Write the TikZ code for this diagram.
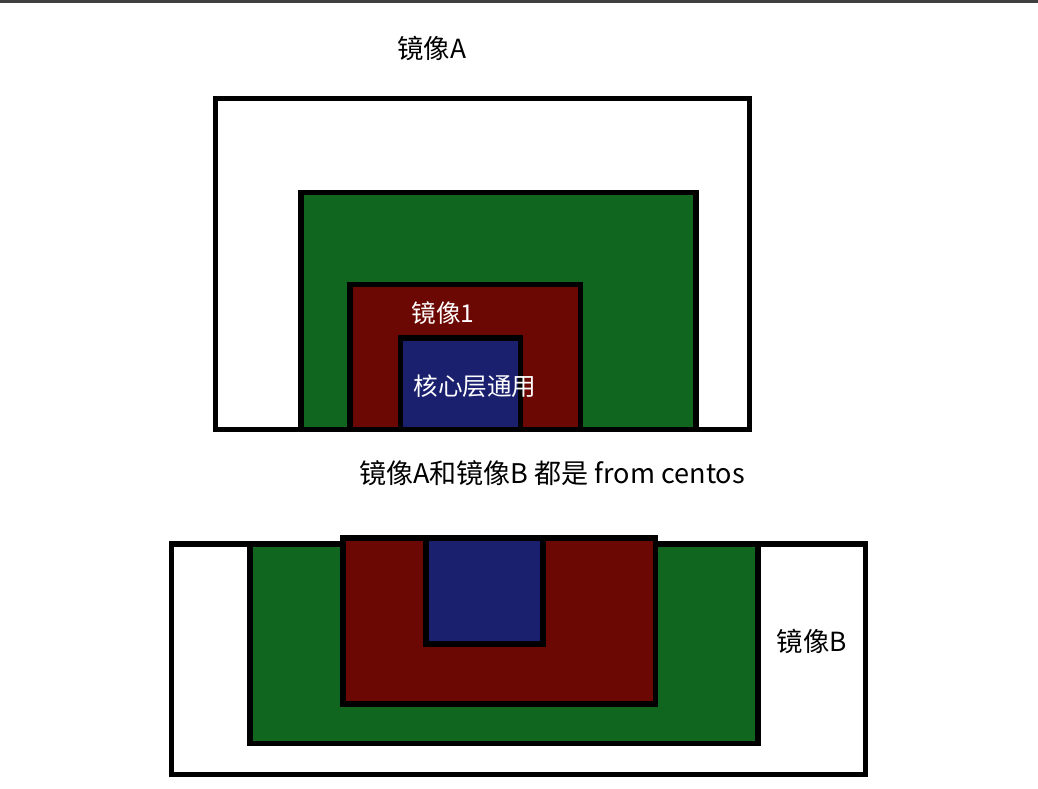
\documentclass[tikz,border=0pt]{standalone}
\usepackage{fontspec}
\setmainfont{Noto Sans CJK SC}
\usepackage{tikz}
\usetikzlibrary{positioning}

\definecolor{layergreen}{HTML}{10661F}
\definecolor{layerred}{HTML}{6C0803}
\definecolor{layerblue}{HTML}{1A1F6E}

\begin{document}
\begin{tikzpicture}[
      x=0.02cm, y=-0.02cm,
      every node/.style={inner sep=0pt, align=center},
      frame/.style={draw=black, line width=3.1pt, fill=white},
      layer/.style={draw=black, line width=3.4pt},
      lbl/.style={font=\fontsize{15}{17}\selectfont, text=black},
      inlbl/.style={font=\fontsize{14}{16}\selectfont, text=white},
  ]
    \useasboundingbox (0,0) rectangle (1038,788);
    \fill[black!75] (0,0) rectangle (1038,3);

    %% --- image A, layers stacked from the bottom line ---
    \draw[frame] (215.5,98.5) rectangle (749.5,429.5);
    \draw[layer, fill=layergreen] (301,192.5) rectangle (696,429.5);
    \draw[layer, fill=layerred]   (350,284.5) rectangle (580.5,429.5);
    \draw[layer, fill=layerblue]  (400.5,338) rectangle (520.5,429.5);
    \draw[frame, fill=none] (215.5,429.5) -- (749.5,429.5);

    \node[lbl] (imgA) at (432,48) {镜像A};
    \node[inlbl] (img1) at (443,313) {镜像1};
    \node[inlbl] (core) at (475,386) {核心层通用};

    %% --- shared base ---
    \node[lbl, font=\fontsize{15.4}{18}\selectfont] (base) at (552,473)
      {镜像A和镜像B 都是 from centos};

    %% --- image B, layers hanging from the top line ---
    \draw[frame] (171.5,544) rectangle (865.5,774.5);
    \draw[layer, fill=layergreen] (250,544) rectangle (758,743.5);
    \draw[layer, fill=layerred]   (343,538) rectangle (655.5,704);
    \draw[layer, fill=layerblue]  (426,538) rectangle (543,644);

    \node[lbl] (imgB) at (812,641) {镜像B};
\end{tikzpicture}
\end{document}
